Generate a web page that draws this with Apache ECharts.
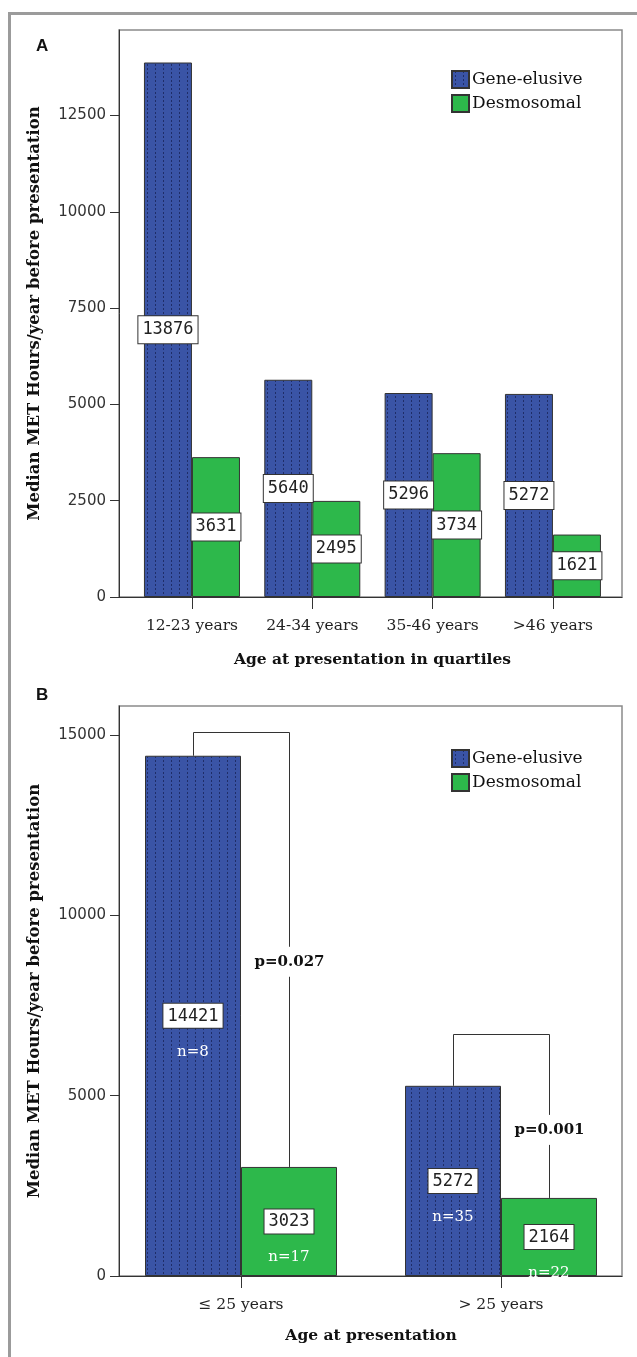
<!DOCTYPE html>
<html>
<head>
<meta charset="utf-8">
<script src="https://cdn.jsdelivr.net/npm/echarts@6/dist/echarts.min.js"></script>
<style>
  html, body { margin: 0; padding: 0; background: #fff; }
  #chart { width: 637px; height: 1357px; }
</style>
</head>
<body>
<div id="chart"></div>
<script>
// Panel A: median MET hours/year by age quartile
const categoriesA = ['12-23 years', '24-34 years', '35-46 years', '>46 years'];
const geneElusiveA = [13876, 5640, 5296, 5272];
const desmosomalA = [3631, 2495, 3734, 1621];
const yTicksA = [0, 2500, 5000, 7500, 10000, 12500];
const yMaxA = 14720;

// Panel B: median MET hours/year by age group, with group sizes and p-values
const categoriesB = ['\u2264 25 years', '> 25 years'];
const geneElusiveB = [14421, 5272];
const desmosomalB = [3023, 2164];
const nGeneElusiveB = [8, 35];
const nDesmosomalB = [17, 22];
const pValuesB = ['p=0.027', 'p=0.001'];
const bracketTopB = [15090, 6710];
const pLabelLevelB = [8710, 4050];
const yTicksB = [0, 5000, 10000, 15000];
const yMaxB = 15800;

const seriesNames = ['Gene-elusive', 'Desmosomal'];
const yTitle = 'Median MET Hours/year before presentation';

const BLUE = '#3a54a6';
const GREEN = '#2db84b';
const EDGE = '#333';
const FRAME = '#8a8a8a';
const SERIF = '"DejaVu Serif", serif';
const MONO = '"DejaVu Sans Mono", monospace';

// dotted fill used by the Gene-elusive bars
function dotPattern() {
  const c = document.createElement('canvas');
  c.width = 8; c.height = 4;
  const g = c.getContext('2d');
  g.fillStyle = BLUE; g.fillRect(0, 0, 8, 4);
  g.fillStyle = '#1f2d68'; g.fillRect(3, 0, 1, 2);
  return c;
}
const blueFill = { image: dotPattern(), repeat: 'repeat' };

const valueBox = {
  color: '#222', fontFamily: MONO, fontSize: 17, lineHeight: 20,
  backgroundColor: '#fff', borderColor: '#333', borderWidth: 1, padding: [4, 4, 3, 4]
};

const frameA = { top: 30, height: 567 };
const frameB = { top: 706, height: 570 };

function frameGrid(f) {
  return { left: 119, right: 15, top: f.top, height: f.height, show: true,
           borderColor: FRAME, borderWidth: 1.5, backgroundColor: '#fff' };
}

function frameYAxis(gridIndex, max, ticks) {
  return {
    type: 'value', gridIndex, min: 0, max,
    name: yTitle, nameLocation: 'middle', nameGap: 76,
    nameTextStyle: { fontFamily: SERIF, fontWeight: 'bold', fontSize: 16.5, color: '#111' },
    axisLine: { show: true, lineStyle: { color: EDGE, width: 1 } },
    axisTick: { show: true, length: 9, customValues: ticks, lineStyle: { color: EDGE } },
    axisLabel: { customValues: ticks, margin: 13, formatter: v => String(v),
                 fontFamily: '"DejaVu Sans", sans-serif', fontSize: 15, color: '#333' },
    splitLine: { show: false }
  };
}

function frameXAxis(gridIndex) {
  return { type: 'value', gridIndex, min: 0, max: 1,
           axisLine: { show: true, onZero: false, lineStyle: { color: EDGE, width: 1 } },
           axisTick: { show: false }, axisLabel: { show: false }, splitLine: { show: false } };
}

function barXAxis(gridIndex, cats, title, gap) {
  return {
    type: 'category', gridIndex, data: cats,
    name: title, nameLocation: 'middle', nameGap: gap,
    nameTextStyle: { fontFamily: SERIF, fontWeight: 'bold', fontSize: 15.5, color: '#111' },
    axisLine: { show: false },
    axisTick: { show: true, alignWithLabel: true, length: 12, lineStyle: { color: EDGE } },
    axisLabel: { margin: 21, fontFamily: SERIF, fontSize: 15.5, color: '#222' },
    splitLine: { show: false }
  };
}

function hiddenYAxis(gridIndex, max) {
  return { type: 'value', gridIndex, min: 0, max, show: false, splitLine: { show: false } };
}

function legendAt(top) {
  return {
    orient: 'vertical', left: 446, top, itemWidth: 17, itemHeight: 17, itemGap: 5,
    icon: 'rect', data: seriesNames,
    textStyle: { fontFamily: SERIF, fontSize: 17, color: '#111', padding: [0, 0, 0, -2] }
  };
}

function barSeries(name, xi, yi, data, fill, label) {
  return {
    type: 'bar', name, xAxisIndex: xi, yAxisIndex: yi, data,
    barWidth: xi === 1 ? 48 : 96, barGap: '0%',
    itemStyle: { color: fill, borderColor: EDGE, borderWidth: 1 },
    label, emphasis: { disabled: true }, animation: false
  };
}

const labelA = { show: true, position: 'inside', ...valueBox };

function labelB(nArr) {
  return {
    show: true, position: 'inside', offset: [0, 26],
    formatter: p => '{v|' + p.value + '}\n{n|n=' + nArr[p.dataIndex] + '}',
    rich: {
      v: valueBox,
      n: { color: '#fff', fontFamily: SERIF, fontSize: 15, lineHeight: 52, align: 'center' }
    }
  };
}

const BAR_B = 96;
const bracketData = categoriesB.map((c, i) =>
  [i, bracketTopB[i], geneElusiveB[i], desmosomalB[i], pLabelLevelB[i]]);

const option = {
  backgroundColor: '#fff',
  animation: false,
  grid: [
    frameGrid(frameA),
    { left: 131.8, width: 481.3, top: frameA.top, height: frameA.height },
    frameGrid(frameB),
    { left: 111, width: 520, top: frameB.top, height: frameB.height }
  ],
  xAxis: [
    frameXAxis(0),
    barXAxis(1, categoriesA, 'Age at presentation in quartiles', 55),
    frameXAxis(2),
    barXAxis(3, categoriesB, 'Age at presentation', 52)
  ],
  yAxis: [
    frameYAxis(0, yMaxA, yTicksA),
    hiddenYAxis(1, yMaxA),
    frameYAxis(2, yMaxB, yTicksB),
    hiddenYAxis(3, yMaxB)
  ],
  legend: [legendAt(65), legendAt(744)],
  series: [
    barSeries(seriesNames[0], 1, 1, geneElusiveA, blueFill, labelA),
    barSeries(seriesNames[1], 1, 1, desmosomalA, GREEN, labelA),
    barSeries(seriesNames[0], 3, 3, geneElusiveB, blueFill, labelB(nGeneElusiveB)),
    barSeries(seriesNames[1], 3, 3, desmosomalB, GREEN, labelB(nDesmosomalB)),
    {
      type: 'custom', xAxisIndex: 3, yAxisIndex: 3, data: bracketData, z: 5,
      silent: true, animation: false,
      renderItem(params, api) {
        const i = api.value(0);
        const cx = api.coord([i, 0])[0];
        const xl = Math.round(cx - BAR_B / 2) + 0.5;
        const xr = Math.round(cx + BAR_B / 2) + 0.5;
        const yTop = Math.round(api.coord([i, api.value(1)])[1]) + 0.5;
        const yBlue = api.coord([i, api.value(2)])[1];
        const yGreen = api.coord([i, api.value(3)])[1];
        const yP = api.coord([i, api.value(4)])[1];
        const gap = 15;
        const line = { stroke: '#333', lineWidth: 1, fill: null };
        return {
          type: 'group',
          children: [
            { type: 'polyline', shape: { points: [[xl, yBlue], [xl, yTop], [xr, yTop], [xr, yP - gap]] }, style: line },
            { type: 'line', shape: { x1: xr, y1: yP + gap, x2: xr, y2: yGreen }, style: line },
            { type: 'text', x: xr, y: yP,
              style: { text: pValuesB[i], fill: '#111', align: 'center', verticalAlign: 'middle',
                       font: 'bold 15px "DejaVu Serif", serif' } }
          ]
        };
      }
    }
  ],
  graphic: [
    { type: 'rect', shape: { x: 9.5, y: 13.5, width: 700, height: 1400 },
      style: { fill: null, stroke: '#9b9b9b', lineWidth: 3 }, z: 100, silent: true },
    { type: 'text', left: 36, top: 38, style: { text: 'A', font: 'bold 17px "Liberation Sans", Arial, sans-serif', fill: '#111' } },
    { type: 'text', left: 36, top: 687, style: { text: 'B', font: 'bold 17px "Liberation Sans", Arial, sans-serif', fill: '#111' } }
  ]
};

const chart = echarts.init(document.getElementById('chart'), null, { renderer: 'canvas' });
chart.setOption(option);
</script>
</body>
</html>
